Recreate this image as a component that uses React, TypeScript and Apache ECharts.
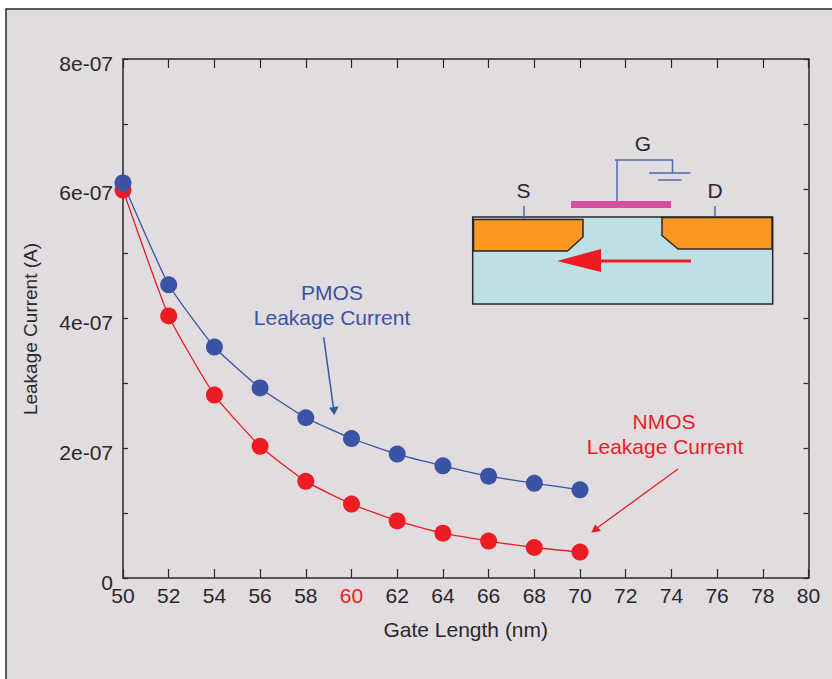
import React, { useEffect, useRef } from "react";
import * as echarts from "echarts";

const gateLengths = [50, 52, 54, 56, 58, 60, 62, 64, 66, 68, 70];
const pmosLeakage = [6.09e-7, 4.52e-7, 3.56e-7, 2.93e-7, 2.47e-7, 2.15e-7, 1.91e-7, 1.73e-7, 1.57e-7, 1.46e-7, 1.36e-7];
const nmosLeakage = [5.98e-7, 4.04e-7, 2.82e-7, 2.03e-7, 1.49e-7, 1.14e-7, 0.88e-7, 0.69e-7, 0.57e-7, 0.47e-7, 0.40e-7];
const yTickLabels = ["0", "", "2e-07", "", "4e-07", "", "6e-07", "", "8e-07"];

const INK = "#2a2728";
const BLUE = "#3a53a4";
const RED = "#ed1c24";
const WIRE = "#4f68ae";
const FONT = "'Liberation Sans', Arial, sans-serif";
const SIZE = 21;

const label = (text: string, x: number, y: number, fill: string) => ({
  type: "text", x, y, z: 5,
  style: { text, fill, font: `${SIZE}px ${FONT}`, textAlign: "center", textVerticalAlign: "middle" },
});
const seg = (x1: number, y1: number, x2: number, y2: number, stroke: string, lineWidth = 1.5) => ({
  type: "line", z: 4, shape: { x1, y1, x2, y2 }, style: { stroke, lineWidth },
});
const poly = (points: number[][], fill: string, stroke?: string, lineWidth = 1.5) => ({
  type: "polygon", z: 4, shape: { points }, style: { fill, stroke, lineWidth },
});

export default function App() {
  const ref = useRef<HTMLDivElement>(null);
  useEffect(() => {
    const chart = echarts.init(ref.current!, null, { renderer: "svg" });
    const axisLine = { show: true, onZero: false, lineStyle: { color: INK, width: 1.5 } };
    chart.setOption({
      animation: false,
      backgroundColor: "#ffffff",
      grid: { left: 123, right: 23.5, top: 59, bottom: 101, containLabel: false },
      xAxis: [
        {
          type: "value", min: 50, max: 80, interval: 2, position: "bottom",
          name: "Gate Length (nm)", nameLocation: "middle", nameGap: 41,
          nameTextStyle: { color: INK, fontFamily: FONT, fontSize: SIZE },
          axisLine, splitLine: { show: false },
          axisTick: { inside: true, length: 9, lineStyle: { color: INK, width: 1.2 } },
          axisLabel: {
            margin: 7, color: INK, fontFamily: FONT, fontSize: SIZE, hideOverlap: false,
            showMinLabel: true, showMaxLabel: true,
            formatter: (v: number) => (v === 60 ? `{r|${v}}` : `${v}`),
            rich: { r: { color: RED, fontFamily: FONT, fontSize: SIZE } },
          },
        },
        {
          type: "value", min: 50, max: 80, interval: 2, position: "top",
          axisLine, splitLine: { show: false }, axisLabel: { show: false },
          axisTick: { inside: true, length: 9, lineStyle: { color: INK, width: 1.2 } },
        },
      ],
      yAxis: [
        {
          type: "value", min: 0, max: 8e-7, interval: 1e-7, position: "left",
          name: "Leakage Current (A)", nameLocation: "middle", nameGap: 83,
          nameTextStyle: { color: INK, fontFamily: FONT, fontSize: 19, padding: [0, 21, 0, 0] },
          axisLine, splitLine: { show: false },
          axisTick: { inside: true, length: 5, lineStyle: { color: INK, width: 1.2 } },
          axisLabel: {
            margin: 10, showMinLabel: true, showMaxLabel: true,
            formatter: (v: number) => {
              const t = yTickLabels[Math.round(v / 1e-7)];
              return t ? `{a|${t}}` : "";
            },
            rich: { a: { color: INK, fontFamily: FONT, fontSize: SIZE, padding: [8, 0, 0, 0] } },
          },
        },
        {
          type: "value", min: 0, max: 8e-7, interval: 1e-7, position: "right",
          axisLine, splitLine: { show: false }, axisLabel: { show: false },
          axisTick: { inside: true, length: 5, lineStyle: { color: INK, width: 1.2 } },
        },
      ],
      series: [
        {
          name: "NMOS Leakage Current", type: "line", z: 3,
          data: gateLengths.map((x, i) => [x, nmosLeakage[i]]),
          symbol: "circle", symbolSize: 17, smooth: 0.15,
          lineStyle: { color: RED, width: 1.3 }, itemStyle: { color: RED },
        },
        {
          name: "PMOS Leakage Current", type: "line", z: 4,
          data: gateLengths.map((x, i) => [x, pmosLeakage[i]]),
          symbol: "circle", symbolSize: 17, smooth: 0.15,
          lineStyle: { color: BLUE, width: 1.3 }, itemStyle: { color: BLUE },
        },
      ],
      graphic: [
        { type: "rect", z: -10, silent: true, shape: { x: 6, y: 9, width: 900, height: 760 },
          style: { fill: "#e0dce0", stroke: INK, lineWidth: 1.5 } },
        label("PMOS", 332, 292, BLUE),
        label("Leakage Current", 332, 317, BLUE),
        label("NMOS", 664, 421, RED),
        label("Leakage Current", 665, 446, RED),
        seg(323.7, 337.3, 333.5, 408, BLUE),
        poly([[334.3, 415], [329, 407.7], [338.7, 406.3]], BLUE),
        seg(678, 469, 597, 528, RED, 1.3),
        poly([[591.3, 532.7], [595, 524.3], [601, 531]], RED),
        // transistor inset
        { type: "rect", z: 3, shape: { x: 472.7, y: 217, width: 300, height: 87 },
          style: { fill: "#bde0e4", stroke: INK, lineWidth: 1.5 } },
        poly([[473.5, 219.5], [583, 219.5], [583, 237], [567.5, 251], [473.5, 251]], "#f9971e", INK),
        poly([[662, 217.5], [772, 217.5], [772, 249], [678, 249], [662, 235.5]], "#f9971e", INK),
        { type: "rect", z: 4, shape: { x: 571, y: 201, width: 100, height: 7 }, style: { fill: "#d44f9c" } },
        seg(617, 160, 617, 201, WIRE),
        seg(615, 160, 673, 160, WIRE),
        seg(672.5, 160, 672.5, 173, WIRE),
        seg(649, 173, 690.5, 173, WIRE),
        seg(658, 180, 681.5, 180, WIRE),
        seg(524, 206, 524, 219, WIRE),
        seg(715, 206, 715, 216.5, WIRE),
        seg(691, 261, 600, 261, RED, 3),
        poly([[557, 261], [601, 249], [601, 272]], RED),
        label("G", 643, 143, INK),
        label("S", 523.5, 190, INK),
        label("D", 715, 190, INK),
      ],
    });
    return () => chart.dispose();
  }, []);
  return <div ref={ref} style={{ position: "fixed", left: 0, top: 0, width: 832, height: 679 }} />;
}
